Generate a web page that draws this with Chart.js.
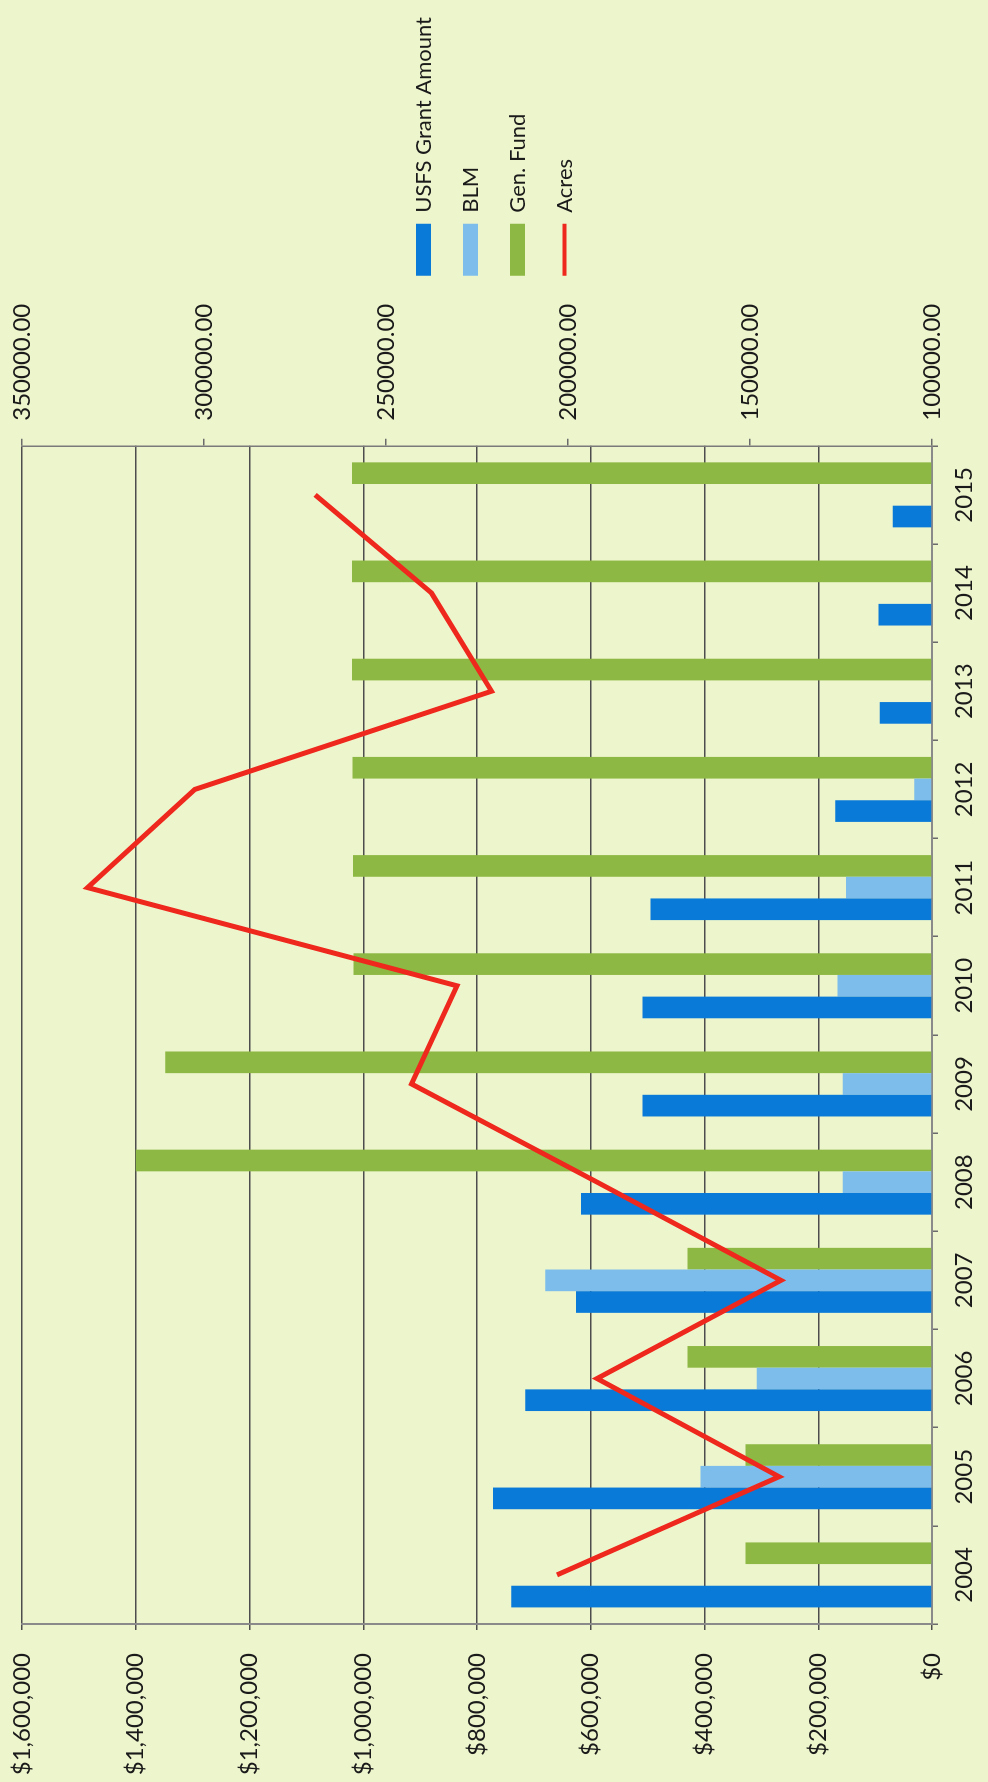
<!DOCTYPE html>
<html>
<head>
<meta charset="utf-8">
<script src="https://cdn.jsdelivr.net/npm/chart.js@4.4.1/dist/chart.umd.min.js"></script>
<style>
  html, body { margin: 0; padding: 0; width: 988px; height: 1782px; overflow: hidden; background: #EDF5CC; }
  #wrap { position: relative; width: 988px; height: 1782px; overflow: hidden; }
  /* the scanned chart lies on its side: draw it landscape, then turn it */
  #turn { position: absolute; left: 0; top: 0; width: 1782px; height: 988px;
          transform-origin: 0 0; transform: translate(0, 1782px) rotate(-90deg); }
  canvas { display: block; width: 1782px; height: 988px; }
</style>
</head>
<body>
<div id="wrap"><div id="turn"><canvas id="chart" width="1782" height="988"></canvas></div></div>
<script>
const years = ['2004', '2005', '2006', '2007', '2008', '2009', '2010', '2011', '2012', '2013', '2014', '2015'];
const usfs = [740000, 772000, 715000, 626000, 617000, 509000, 509000, 495000, 170000, 92000, 94000, 69000];
const blm = [0, 407000, 308000, 680000, 157000, 157000, 166000, 151000, 31000, 0, 0, 0];
const genFund = [328000, 328000, 430000, 430000, 1400000, 1348000, 1017000, 1018000, 1019000, 1020000, 1020000, 1020000];
const acres = [203000, 142000, 192000, 141500, 192000, 243000, 230500, 332000, 302500, 221000, 237500, 269500];
const seriesNames = ['USFS Grant Amount', 'BLM', 'Gen. Fund', 'Acres'];

const dollarTicks = { min: 0, max: 1600000, step: 200000 };
const acreTicks = { min: 100000, max: 350000, step: 50000 };

const txt = '#1a1a1a';
Chart.defaults.font.family = 'Lato';
Chart.defaults.font.size = 24;
Chart.defaults.color = txt;

const canvas = document.getElementById('chart');

// legend sizing: put the legend's left edge at x=1481 whatever the text width
const legendFont = 22, legendPad = 25, keyWidth = 52;
const ctx = canvas.getContext('2d');
ctx.font = legendFont + 'px Lato';
const longest = Math.max(...seriesNames.map(n => ctx.measureText(n).width));
const legendWidth = legendPad + keyWidth + legendFont / 2 + longest + 10;
const rightPad = Math.round(1782 - 1481 - legendWidth);

new Chart(canvas, {
    type: 'bar',
    data: {
        labels: years,
        datasets: [{
            label: seriesNames[0],
            data: usfs,
            backgroundColor: '#0A7AD8',
            borderWidth: 0,
            pointStyle: 'rect',
            order: 1
        }, {
            label: seriesNames[1],
            data: blm,
            backgroundColor: '#7DBDEB',
            borderWidth: 0,
            pointStyle: 'rect',
            order: 1
        }, {
            label: seriesNames[2],
            data: genFund,
            backgroundColor: '#8DB843',
            borderWidth: 0,
            pointStyle: 'rect',
            order: 1
        }, {
            type: 'line',
            label: seriesNames[3],
            data: acres,
            yAxisID: 'y1',
            borderColor: '#EF281E',
            borderWidth: 5,
            tension: 0,
            pointRadius: 0,
            pointStyle: 'line',
            pointBorderColor: '#EF281E',
            pointBorderWidth: 4,
            order: 0
        }]
    },
    options: {
        responsive: false,
        devicePixelRatio: 1,
        animation: false,
        events: [],
        categoryPercentage: 0.662,
        barPercentage: 1.0,
        layout: { padding: { top: 0, left: 0, bottom: 0, right: rightPad } },
        plugins: {
            tooltip: { enabled: false },
            legend: {
                position: 'right',
                labels: {
                    usePointStyle: true,
                    pointStyleWidth: keyWidth,
                    boxHeight: 15,
                    padding: legendPad,
                    color: txt,
                    font: { size: legendFont },
                    sort: (a, b) => a.datasetIndex - b.datasetIndex
                }
            }
        },
        scales: {
            x: {
                grid: { display: true, drawOnChartArea: false, drawTicks: true, tickLength: 6, color: '#6b6b6b', lineWidth: 1.5 },
                border: { display: true, color: '#8a8a8a', width: 2 },
                ticks: { padding: 12, color: txt, maxRotation: 0, autoSkip: false },
                afterFit: s => { s.height = 56; s.paddingLeft = 0; s.paddingRight = 0; }
            },
            y: {
                position: 'left',
                min: dollarTicks.min,
                max: dollarTicks.max,
                grid: { color: '#4d4d4d', lineWidth: 1.5, tickLength: 6 },
                border: { display: true, color: '#8a8a8a', width: 2 },
                ticks: {
                    stepSize: dollarTicks.step,
                    padding: 23,
                    color: txt,
                    callback: v => '$' + v.toLocaleString('en-US')
                },
                afterFit: s => { s.width = 158; s.paddingTop = 22; s.paddingBottom = 0; }
            },
            y1: {
                position: 'right',
                min: acreTicks.min,
                max: acreTicks.max,
                grid: { drawOnChartArea: false, drawTicks: true, tickLength: 7, color: '#6b6b6b', lineWidth: 1.5 },
                border: { display: true, color: '#7a7a7a', width: 1.5 },
                ticks: {
                    stepSize: acreTicks.step,
                    padding: 18,
                    color: txt,
                    callback: v => v.toFixed(2)
                },
                afterFit: s => { s.width = 145; s.paddingTop = 0; s.paddingBottom = 0; }
            }
        }
    }
});
</script>
</body>
</html>
